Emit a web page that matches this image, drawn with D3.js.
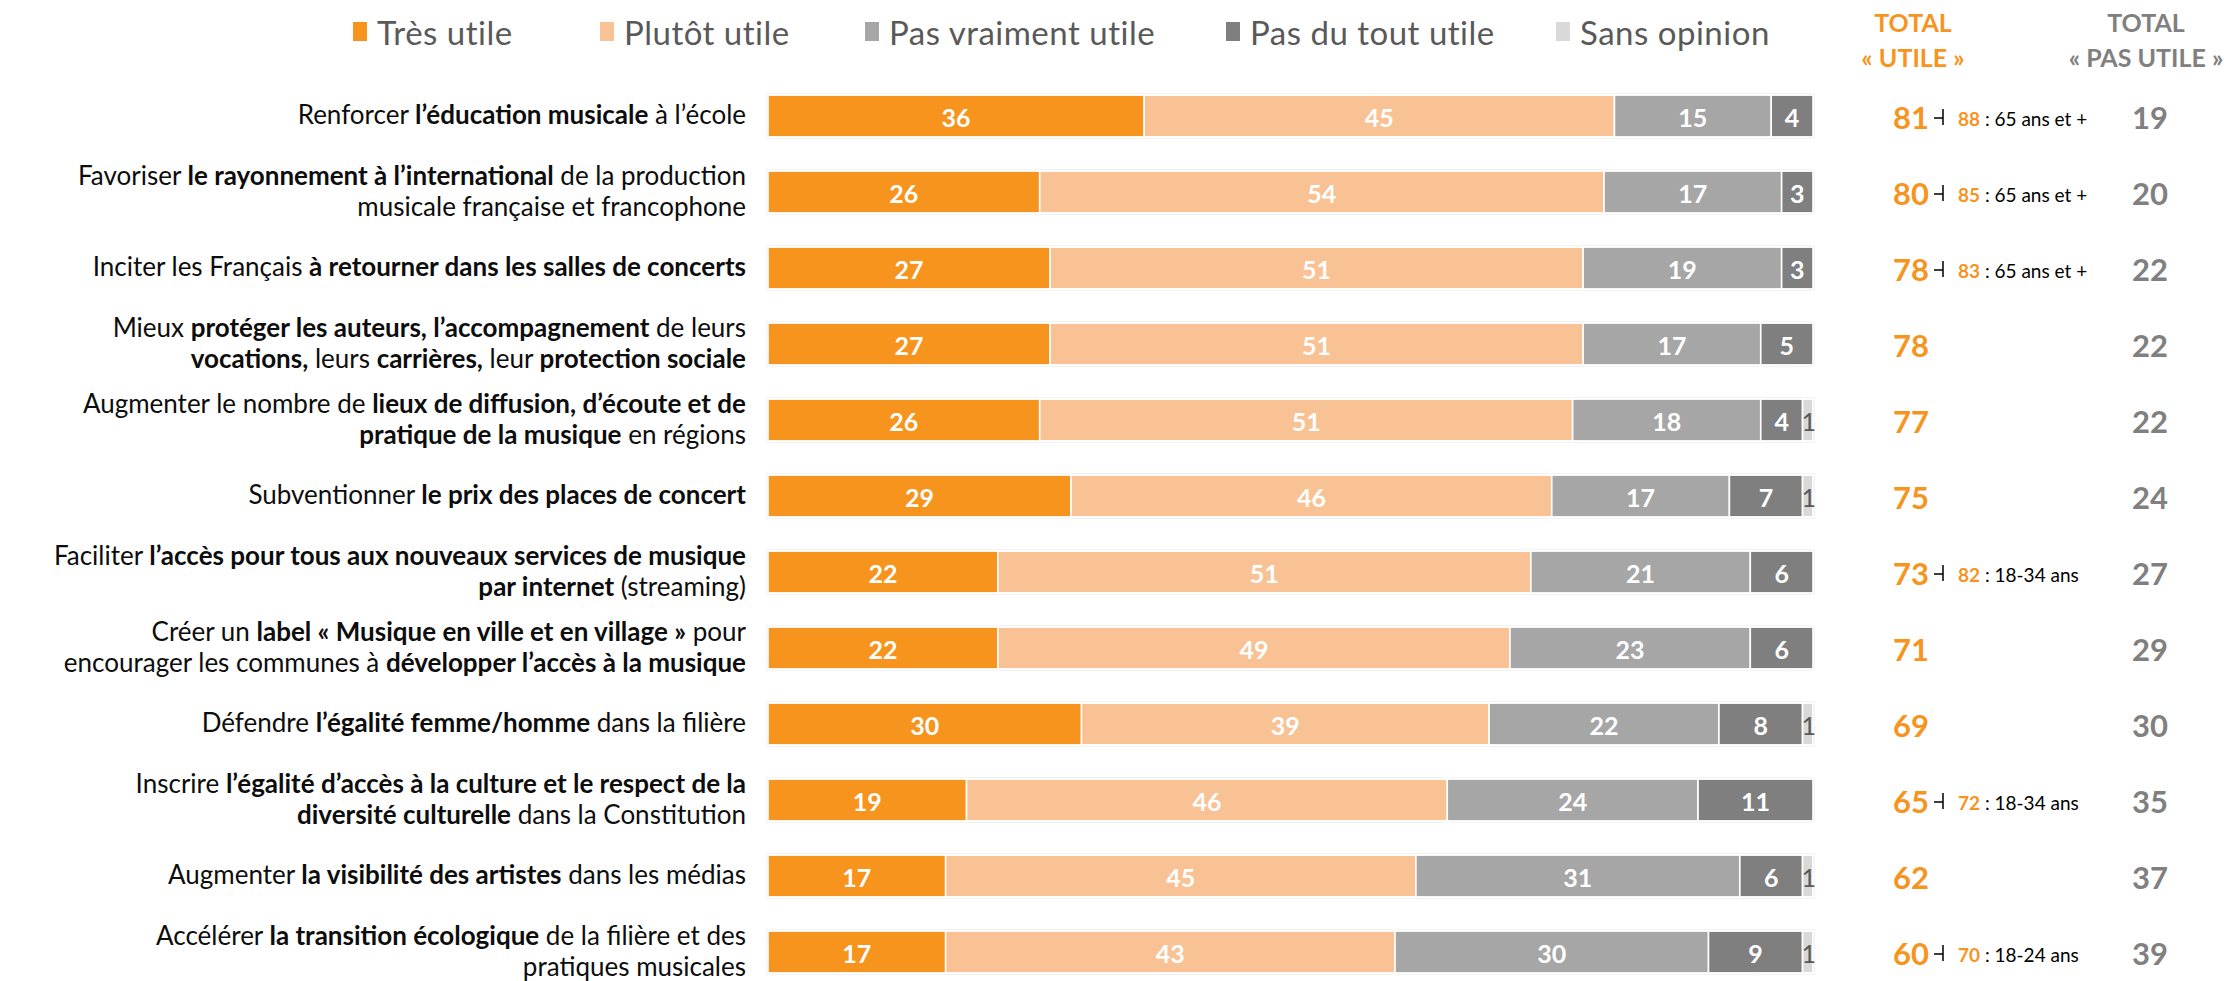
<!DOCTYPE html>
<html>
<head>
<meta charset="utf-8">
<script src="https://cdn.jsdelivr.net/npm/d3@7"></script>
<style>
  body { margin: 0; background: #fff; }
  svg { display: block; font-family: Lato, "Open Sans", sans-serif; }
</style>
</head>
<body>
<div id="chart"></div>
<script>
/* stacked bar chart: utilité des mesures pour la musique */

// categories, ** marks the bold parts, \n splits the lines
const categories = [
  "Renforcer **l’éducation musicale** à l’école",
  "Favoriser **le rayonnement à l’international** de la production\nmusicale française et francophone",
  "Inciter les Français **à retourner dans les salles de concerts**",
  "Mieux **protéger les auteurs, l’accompagnement** de leurs\n**vocations,** leurs **carrières,** leur **protection sociale**",
  "Augmenter le nombre de **lieux de diffusion, d’écoute et de**\n**pratique de la musique** en régions",
  "Subventionner **le prix des places de concert**",
  "Faciliter **l’accès pour tous aux nouveaux services de musique**\n**par internet** (streaming)",
  "Créer un **label « Musique en ville et en village »** pour\nencourager les communes à **développer l’accès à la musique**",
  "Défendre **l’égalité femme/homme** dans la filière",
  "Inscrire **l’égalité d’accès à la culture et le respect de la**\n**diversité culturelle** dans la Constitution",
  "Augmenter **la visibilité des artistes** dans les médias",
  "Accélérer **la transition écologique** de la filière et des\npratiques musicales"
];

const seriesNames = ["Très utile", "Plutôt utile", "Pas vraiment utile", "Pas du tout utile", "Sans opinion"];
const tresUtile   = [36, 26, 27, 27, 26, 29, 22, 22, 30, 19, 17, 17];
const plutotUtile = [45, 54, 51, 51, 51, 46, 51, 49, 39, 46, 45, 43];
const pasVraiment = [15, 17, 19, 17, 18, 17, 21, 23, 22, 24, 31, 30];
const pasDuTout   = [4, 3, 3, 5, 4, 7, 6, 6, 8, 11, 6, 9];
const sansOpinion = [0, 0, 0, 0, 1, 1, 0, 0, 1, 0, 1, 1];

const totalUtile    = [81, 80, 78, 78, 77, 75, 73, 71, 69, 65, 62, 60];
const totalPasUtile = [19, 20, 22, 22, 22, 24, 27, 29, 30, 35, 37, 39];

// sub-group callouts next to total "utile"
const highlightValue = [88, 85, 83, null, null, null, 82, null, null, 72, null, 70];
const highlightGroup = ["65 ans et +", "65 ans et +", "65 ans et +", null, null, null,
  "18-34 ans", null, null, "18-34 ans", null, "18-24 ans"];

const colors = ["#F7941D", "#F9C294", "#A6A6A6", "#7F7F7F", "#D9D9D9"];
const orange = "#F7941D";

const W = 2231, H = 981;

const svg = d3.select("#chart").append("svg")
  .attr("width", W)
  .attr("height", H);

// build table for the stack
const table = categories.map((c, i) => ({
  idx: i,
  "Très utile": tresUtile[i],
  "Plutôt utile": plutotUtile[i],
  "Pas vraiment utile": pasVraiment[i],
  "Pas du tout utile": pasDuTout[i],
  "Sans opinion": sansOpinion[i]
}));

const stacked = d3.stack().keys(seriesNames)(table);

const xScale = d3.scaleLinear().domain([0, 100]).range([768, 1813]);
const yScale = d3.scaleBand()
  .domain(d3.range(categories.length))
  .range([78, 990])
  .paddingInner(0.45)
  .paddingOuter(0.225);
const color = d3.scaleOrdinal().domain(seriesNames).range(colors);

const bw = yScale.bandwidth();
const cy = i => yScale(i) + bw / 2;

// faint halo behind each bar
svg.append("g").selectAll("rect")
  .data(table)
  .enter().append("rect")
  .attr("x", xScale(0) - 2)
  .attr("y", d => yScale(d.idx) - 2)
  .attr("width", d => xScale(d3.sum(seriesNames, k => d[k])) - xScale(0) + 4)
  .attr("height", bw + 4)
  .attr("fill", "#f3f3f3");

// bars
const layers = svg.append("g").selectAll("g")
  .data(stacked)
  .enter().append("g")
  .attr("fill", s => color(s.key));

layers.selectAll("rect")
  .data(s => s.filter(d => d[1] - d[0] > 0))
  .enter().append("rect")
  .attr("x", d => xScale(d[0]))
  .attr("y", d => yScale(d.data.idx))
  .attr("width", d => xScale(d[1]) - xScale(d[0]))
  .attr("height", bw)
  .attr("stroke", "#fff")
  .attr("stroke-width", 1.6);

// values in the bars
layers.each(function (s) {
  const isSans = s.key === "Sans opinion";
  d3.select(this).selectAll("text")
    .data(s.filter(d => d[1] - d[0] > 0))
    .enter().append("text")
    .attr("x", d => (xScale(d[0]) + xScale(d[1])) / 2 + (isSans ? 1 : 0))
    .attr("y", d => cy(d.data.idx) + 1)
    .attr("text-anchor", "middle")
    .attr("dominant-baseline", "central")
    .attr("fill", isSans ? "#595959" : "#fff")
    .style("font-weight", isSans ? 400 : 700)
    .style("font-size", "25px")
    .text(d => d[1] - d[0]);
});

// category labels with bold parts
const labelG = svg.append("g");
categories.forEach((c, i) => {
  const lines = c.split("\n");
  const lh = 31;
  const y0 = cy(i) - 2 - (lines.length - 1) * lh / 2;
  lines.forEach((line, li) => {
    const t = labelG.append("text")
      .attr("x", 746)
      .attr("y", y0 + li * lh)
      .attr("text-anchor", "end")
      .attr("dominant-baseline", "central")
      .attr("fill", "#0d0d0d")
      .style("font-size", "26px");
    line.split("**").forEach((part, pi) => {
      if (part === "") return;
      t.append("tspan")
        .style("font-weight", pi % 2 === 1 ? 700 : 400)
        .text(part);
    });
  });
});

// legend
const legendX = [353, 600, 865, 1226, 1556];
const legend = svg.append("g").selectAll("g")
  .data(seriesNames)
  .enter().append("g")
  .attr("transform", (d, i) => `translate(${legendX[i]},31)`);
legend.append("rect")
  .attr("x", 0).attr("y", -9)
  .attr("width", 14).attr("height", 19)
  .attr("fill", d => color(d));
legend.append("text")
  .attr("x", 24)
  .attr("y", 1)
  .attr("dominant-baseline", "central")
  .attr("fill", "#595959")
  .style("font-size", "33px")
  .style("letter-spacing", "0.5px")
  .text(d => d);

// headers
const utileX = 1913, pasX = 2146;
[["TOTAL", "« UTILE »", utileX, orange], ["TOTAL", "« PAS UTILE »", pasX, "#808080"]]
  .forEach(h => {
    svg.append("text")
      .attr("x", h[2]).attr("y", 32)
      .attr("text-anchor", "middle")
      .attr("fill", h[3])
      .style("font-weight", 700)
      .style("font-size", "25px")
      .text(h[0]);
    svg.append("text")
      .attr("x", h[2]).attr("y", 67)
      .attr("text-anchor", "middle")
      .attr("fill", h[3])
      .style("font-weight", 700)
      .style("font-size", "25px")
      .text(h[1]);
  });

// totals
svg.append("g").selectAll("text")
  .data(totalUtile)
  .enter().append("text")
  .attr("x", 1911)
  .attr("y", (d, i) => cy(i) + 1)
  .attr("text-anchor", "middle")
  .attr("dominant-baseline", "central")
  .attr("fill", orange)
  .style("font-weight", 700)
  .style("font-size", "31px")
  .text(d => d);

svg.append("g").selectAll("text")
  .data(totalPasUtile)
  .enter().append("text")
  .attr("x", 2150)
  .attr("y", (d, i) => cy(i) + 1)
  .attr("text-anchor", "middle")
  .attr("dominant-baseline", "central")
  .attr("fill", "#808080")
  .style("font-weight", 700)
  .style("font-size", "31px")
  .text(d => d);

// callouts
const callouts = highlightValue
  .map((v, i) => ({ v: v, g: highlightGroup[i], i: i }))
  .filter(d => d.v !== null);

const co = svg.append("g").selectAll("g")
  .data(callouts)
  .enter().append("g")
  .attr("transform", d => `translate(0,${cy(d.i)})`);
co.append("path")
  .attr("d", "M1934,2H1943M1943,-7V9")
  .attr("stroke", "#000")
  .attr("stroke-width", 1.5)
  .attr("fill", "none");
const ct = co.append("text")
  .attr("x", 1958)
  .attr("y", 2)
  .attr("dominant-baseline", "central")
  .style("font-size", "19px");
ct.append("tspan")
  .attr("fill", orange)
  .style("font-weight", 700)
  .text(d => d.v);
ct.append("tspan")
  .attr("fill", "#000")
  .text(d => " : " + d.g);
</script>
</body>
</html>
